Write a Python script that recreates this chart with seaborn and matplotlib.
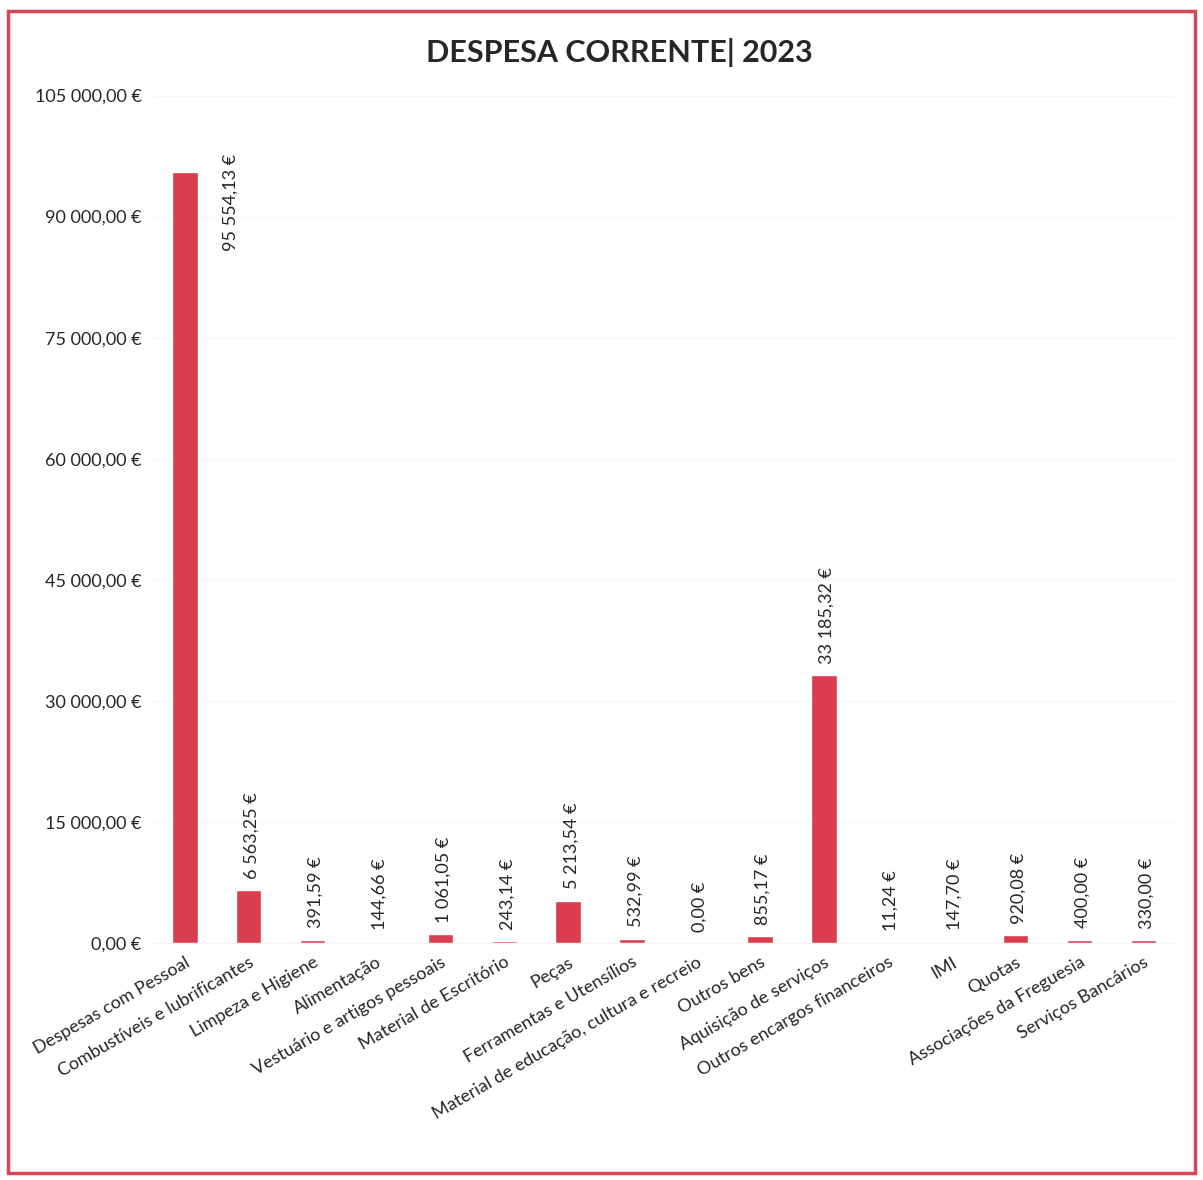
import matplotlib.pyplot as plt
import matplotlib.patches as mpatches
import seaborn as sns
import pandas as pd

# Despesa corrente 2023 (valores em euros)
categorias = [
    'Despesas com Pessoal', 'Combustíveis e lubrificantes', 'Limpeza e Higiene',
    'Alimentação', 'Vestuário e artigos pessoais', 'Material de Escritório',
    'Peças', 'Ferramentas e Utensílios', 'Material de educação, cultura e recreio',
    'Outros bens', 'Aquisição de serviços', 'Outros encargos financeiros',
    'IMI', 'Quotas', 'Associações da Freguesia', 'Serviços Bancários',
]
valores = [95554.13, 6563.25, 391.59, 144.66, 1061.05, 243.14, 5213.54, 532.99,
           0.00, 855.17, 33185.32, 11.24, 147.70, 920.08, 400.00, 330.00]
y_ticks = [0, 15000, 30000, 45000, 60000, 75000, 90000, 105000]

df = pd.DataFrame({'Categoria': categorias, 'Valor': valores})


def euro(v):
    s = f"{v:,.2f}"
    s = s.replace(',', ' ').replace('.', ',')
    return s + ' €'


sns.set_style("white")
plt.rcParams['font.family'] = ['Lato', 'DejaVu Sans']

fig = plt.figure(figsize=(12.03, 11.8), dpi=100)
ax = fig.add_axes([0.127, 0.201, 0.85, 0.718])

sns.barplot(data=df, x='Categoria', y='Valor', color='#db3d4e', width=0.4,
            saturation=1, ax=ax)

ax.set_ylim(0, 105000)
ax.set_xlim(-0.5, len(categorias) - 0.5)
ax.set_yticks(y_ticks)
ax.set_yticklabels([euro(t) for t in y_ticks], fontsize=13)
ax.yaxis.grid(True, color='#f7f7f7', linewidth=1)
ax.set_axisbelow(True)
for side in ['top', 'right', 'left']:
    ax.spines[side].set_visible(False)
ax.spines['bottom'].set_color('#f4f4f4')
ax.tick_params(axis='both', length=0, pad=8)
ax.set_xlabel('')
ax.set_ylabel('')
ax.set_xticks(range(len(categorias)))
ax.set_xticklabels(categorias, rotation=30, ha='right', rotation_mode='anchor',
                   fontsize=13)

# rótulos de dados verticais
ymax = ax.get_ylim()[1]
for i, v in enumerate(valores):
    if v + 0.12 * ymax > ymax:
        ax.text(i + 0.72, ymax * 0.817, euro(v), rotation=90, ha='center',
                va='bottom', fontsize=13)
    else:
        ax.text(i + 0.05, v + 1400, euro(v), rotation=90, ha='center',
                va='bottom', fontsize=13)

fig.suptitle('DESPESA CORRENTE| 2023', x=0.515, y=0.968, fontsize=22,
             fontweight='bold')

# moldura vermelha
fig.patches.append(mpatches.Rectangle((0.007, 0.006), 0.986, 0.985,
                                      transform=fig.transFigure, fill=False,
                                      edgecolor='#d9465a', linewidth=2.5))

plt.savefig('out.png', dpi=100, facecolor='white')
